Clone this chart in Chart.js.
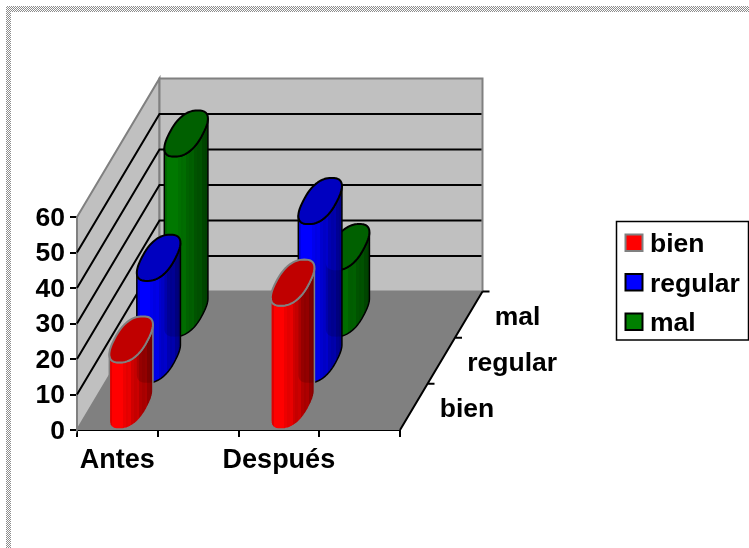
<!DOCTYPE html>
<html>
<head>
<meta charset="utf-8">
<style>
html, body { margin: 0; padding: 0; background: #fff; overflow: hidden; }
#wrap { position: relative; width: 749px; height: 548px; }
#frameTop, #frameLeft {
    position: absolute;
    background: repeating-conic-gradient(#8c8c8c 0 25%, #fff 0 50%) 0 0 / 2px 2px;
}
#frameTop { left: 6px; top: 6px; right: 0; height: 6px; }
#frameLeft { left: 6px; top: 6px; bottom: 0; width: 5px; }
canvas { position: absolute; left: 0; top: 0; }
</style>
</head>
<body>
<div id="wrap">
    <canvas id="chart3d" width="749" height="548"></canvas>
    <div id="frameTop"></div>
    <div id="frameLeft"></div>
</div>
<script src="https://cdn.jsdelivr.net/npm/chart.js@4/dist/chart.umd.min.js"></script>
<script>
// values
const categories = ['Antes', '', 'Después', ''];
const depthLabels = ['bien', 'regular', 'mal'];
const bien = [19, null, 35, null];
const regular = [29, null, 45, null];
const mal = [51, null, 19, null];
const yMax = 60;
const yStep = 10;

const bodyColors = [[255, 0, 0], [0, 0, 255], [0, 120, 0]];
const legendColors = ['#ff0000', '#0000ff', '#008000'];
const capColors = ['#c00000', '#0000c0', '#006000'];
const edgeColors = ['#808080', '#000000', '#000000'];

// projection of the depth axis, whole length
const DEPTH_X = 82.5;
const DEPTH_Y = 138.5;
const CAP_SKEW = 0.85;
const CAP_ROUND = 0.82;   // below 1 gives the fuller, boxier section of the original
const CAP_STEPS = 72;
const FONT_FAMILY = '"Liberation Sans", Arial, sans-serif';
const FONT = 'bold 26.5px ' + FONT_FAMILY;

function bandDx() { return DEPTH_X / depthLabels.length; }
function bandDy() { return DEPTH_Y / depthLabels.length; }

function drawWalls(chart) {
    const ctx = chart.ctx;
    const { left, right, top, bottom } = chart.chartArea;
    const yScale = chart.scales.y;
    ctx.save();

    // floor
    ctx.fillStyle = '#808080';
    ctx.beginPath();
    ctx.moveTo(left, bottom);
    ctx.lineTo(right, bottom);
    ctx.lineTo(right + DEPTH_X, bottom - DEPTH_Y);
    ctx.lineTo(left + DEPTH_X, bottom - DEPTH_Y);
    ctx.closePath();
    ctx.fill();

    // side wall and back wall
    ctx.fillStyle = '#c0c0c0';
    ctx.strokeStyle = '#808080';
    ctx.lineWidth = 2;
    ctx.beginPath();
    ctx.moveTo(left, bottom);
    ctx.lineTo(left + DEPTH_X, bottom - DEPTH_Y);
    ctx.lineTo(left + DEPTH_X, top - DEPTH_Y);
    ctx.lineTo(left, top);
    ctx.closePath();
    ctx.fill();
    ctx.stroke();

    ctx.beginPath();
    ctx.rect(left + DEPTH_X, top - DEPTH_Y, right - left, bottom - top);
    ctx.fill();
    ctx.stroke();

    // grid lines on both walls
    ctx.strokeStyle = '#000';
    ctx.lineWidth = 2;
    yScale.ticks.forEach(t => {
        if (t.value === 0 || t.value === yMax) return;
        const y = yScale.getPixelForValue(t.value);
        ctx.beginPath();
        ctx.moveTo(left, y);
        ctx.lineTo(left + DEPTH_X, y - DEPTH_Y);
        ctx.lineTo(right + DEPTH_X - 1, y - DEPTH_Y);
        ctx.stroke();
    });

    // depth axis with ticks and labels
    ctx.beginPath();
    ctx.moveTo(right, bottom);
    ctx.lineTo(right + DEPTH_X, bottom - DEPTH_Y);
    for (let k = 1; k <= depthLabels.length; k++) {
        ctx.moveTo(right + bandDx() * k, bottom - bandDy() * k);
        ctx.lineTo(right + bandDx() * k + 7, bottom - bandDy() * k);
    }
    ctx.stroke();

    ctx.fillStyle = '#000';
    ctx.font = FONT;
    ctx.textAlign = 'left';
    ctx.textBaseline = 'alphabetic';
    depthLabels.forEach((label, k) => {
        const mx = right + bandDx() * (k + 0.5);
        const my = bottom - bandDy() * (k + 0.5);
        ctx.fillText(label, mx + 26, my + 10);
    });
    ctx.restore();
}

function soften(v) {
    return Math.sign(v) * Math.pow(Math.abs(v), CAP_ROUND);
}

// outline of a column's section, as offsets from its centre
function sectionOutline(w) {
    const pts = [];
    for (let i = 0; i < CAP_STEPS; i++) {
        const t = Math.PI * 2 * i / CAP_STEPS;
        const u = soften(Math.cos(t));
        const v = soften(Math.sin(t));
        pts.push([(w / 2) * u + (bandDx() * CAP_SKEW / 2) * v, -(bandDy() / 2) * v]);
    }
    return pts;
}

// the part of the outline facing the viewer, left extreme to right extreme
function frontArc(pts) {
    let minI = 0, maxI = 0;
    pts.forEach((p, i) => {
        if (p[0] < pts[minI][0]) minI = i;
        if (p[0] > pts[maxI][0]) maxI = i;
    });
    const arc = [];
    for (let i = minI; ; i = (i + 1) % pts.length) {
        arc.push(pts[i]);
        if (i === maxI) break;
    }
    return arc;
}

function columnGeometry(bar, k) {
    const cx = bar.x + bandDx() * (k + 0.5);
    const shift = bandDy() * (k + 0.5);
    return {
        cx,
        yTop: bar.y - shift,
        yBase: bar.base - shift,
        outline: sectionOutline(bar.width)
    };
}

function bodyPath(ctx, g) {
    const arc = frontArc(g.outline);
    ctx.beginPath();
    arc.forEach((p, i) => {
        if (i === 0) ctx.moveTo(g.cx + p[0], g.yBase + p[1]);
        else ctx.lineTo(g.cx + p[0], g.yBase + p[1]);
    });
    for (let i = arc.length - 1; i >= 0; i--) {
        ctx.lineTo(g.cx + arc[i][0], g.yTop + arc[i][1]);
    }
    ctx.closePath();
}

function capPath(ctx, g) {
    ctx.beginPath();
    g.outline.forEach((p, i) => {
        if (i === 0) ctx.moveTo(g.cx + p[0], g.yTop + p[1]);
        else ctx.lineTo(g.cx + p[0], g.yTop + p[1]);
    });
    ctx.closePath();
}

function facetGradient(ctx, g, rgb) {
    const half = Math.max(...g.outline.map(p => p[0]));
    const grad = ctx.createLinearGradient(g.cx - half, 0, g.cx + half, 0);
    const facets = 16;
    for (let i = 0; i < facets; i++) {
        const f = i / facets;
        let shade = f < 0.2 ? 1 : 1 - 0.5 * (f - 0.2) / 0.8;
        if (i === 0) shade = 0.88;
        if (i % 3 === 1) shade += 0.06;
        shade = Math.min(shade, 1);
        const c = `rgb(${rgb[0] * shade}, ${rgb[1] * shade}, ${rgb[2] * shade})`;
        grad.addColorStop(f, c);
        grad.addColorStop((i + 1) / facets, c);
    }
    return grad;
}

function drawColumn(chart, k, i) {
    const ctx = chart.ctx;
    const bar = chart.getDatasetMeta(k).data[i];
    const g = columnGeometry(bar, k);
    ctx.save();
    ctx.lineJoin = 'round';
    ctx.lineWidth = 1.5;
    ctx.strokeStyle = edgeColors[k];

    bodyPath(ctx, g);
    ctx.fillStyle = facetGradient(ctx, g, bodyColors[k]);
    ctx.fill();

    // the column behind shows faintly through this one
    if (k + 1 < depthLabels.length) {
        const behind = columnGeometry(chart.getDatasetMeta(k + 1).data[i], k + 1);
        ctx.save();
        bodyPath(ctx, g);
        ctx.clip();
        bodyPath(ctx, behind);
        ctx.fillStyle = 'rgba(0, 0, 0, 0.15)';
        ctx.fill();
        ctx.restore();
    }

    bodyPath(ctx, g);
    ctx.stroke();

    capPath(ctx, g);
    ctx.fillStyle = capColors[k];
    ctx.fill();
    ctx.lineWidth = 2;
    ctx.stroke();
    ctx.restore();
}

const cylinderPlugin = {
    id: 'cylinders',
    beforeDatasetsDraw(chart) {
        drawWalls(chart);
    },
    beforeDatasetDraw(chart, args) {
        const values = chart.data.datasets[args.index].data;
        values.forEach((v, i) => {
            if (v !== null) drawColumn(chart, args.index, i);
        });
        return false;
    },
    afterDraw(chart) {
        // legend box
        const ctx = chart.ctx;
        ctx.save();
        ctx.strokeStyle = '#000';
        ctx.lineWidth = 1.5;
        ctx.fillStyle = '#fff';
        ctx.fillRect(616.5, 221.5, 132, 118.5);
        ctx.strokeRect(616.5, 221.5, 132, 118.5);
        ctx.font = FONT;
        ctx.textBaseline = 'alphabetic';
        ctx.textAlign = 'left';
        chart.data.datasets.forEach((ds, k) => {
            const sy = 234.5 + k * 39.5;
            ctx.fillStyle = legendColors[k];
            ctx.fillRect(625.5, sy, 17, 16.5);
            ctx.strokeStyle = edgeColors[k];
            ctx.lineWidth = 2;
            ctx.strokeRect(625.5, sy, 17, 16.5);
            ctx.fillStyle = '#000';
            ctx.fillText(ds.label, 650, sy + 17.5);
        });
        ctx.restore();
    }
};

new Chart(document.getElementById('chart3d').getContext('2d'), {
    type: 'bar',
    data: {
        labels: categories,
        datasets: [
            { label: depthLabels[0], data: bien },
            { label: depthLabels[1], data: regular },
            { label: depthLabels[2], data: mal }
        ]
    },
    plugins: [cylinderPlugin],
    options: {
        responsive: false,
        animation: false,
        devicePixelRatio: 1,
        grouped: false,
        barPercentage: 0.42,
        categoryPercentage: 1,
        layout: { padding: { top: 217, right: 349, left: 0, bottom: 0 } },
        plugins: { legend: { display: false }, tooltip: { enabled: false } },
        scales: {
            x: {
                afterFit(scale) { scale.height = 118; },
                offset: true,
                grid: { offset: true, drawOnChartArea: false, tickLength: 7, color: '#000', lineWidth: 2 },
                border: { color: '#000', width: 2 },
                ticks: {
                    autoSkip: false,
                    maxRotation: 0,
                    padding: 7,
                    color: '#000',
                    font: { family: FONT_FAMILY, size: 27, weight: 'bold' }
                }
            },
            y: {
                afterFit(scale) { scale.width = 77; },
                min: 0,
                max: yMax,
                grid: { drawOnChartArea: false, tickLength: 7, color: '#000', lineWidth: 2 },
                border: { color: '#000', width: 2 },
                ticks: {
                    stepSize: yStep,
                    padding: 5,
                    labelOffset: 1.5,
                    color: '#000',
                    font: { family: FONT_FAMILY, size: 26.5, weight: 'bold' }
                }
            }
        }
    }
});
</script>
</body>
</html>
